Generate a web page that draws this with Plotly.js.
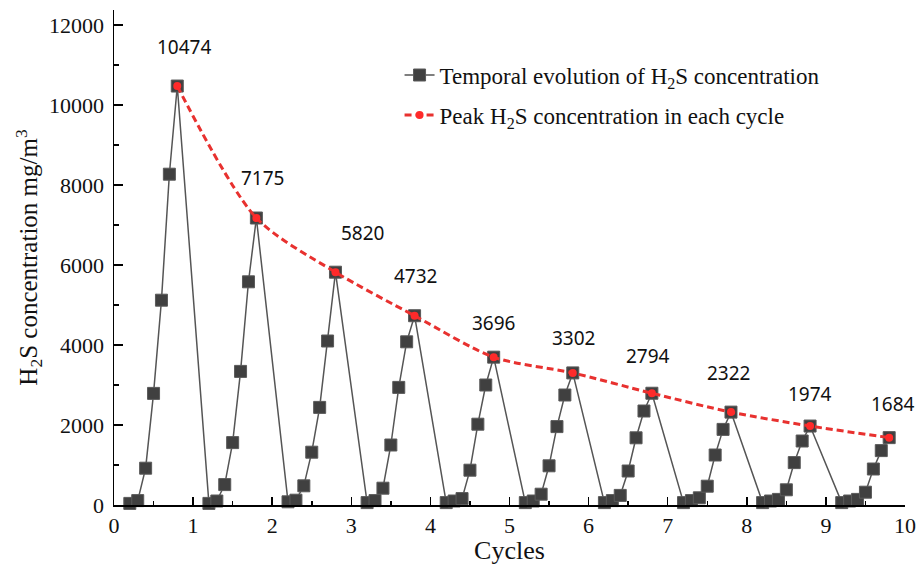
<!DOCTYPE html>
<html>
<head>
<meta charset="utf-8">
<script src="https://cdn.plot.ly/plotly-3.0.1.min.js"></script>
<style>
  html, body { margin: 0; padding: 0; background: #ffffff; }
  #chart { width: 918px; height: 565px; }
</style>
</head>
<body>
<div id="chart"></div>
<script>
// Sampling times (cycles) of the H2S measurements
const sampleTime = [
  0.2, 0.3, 0.4, 0.5, 0.6, 0.7, 0.8,
  1.2, 1.3, 1.4, 1.5, 1.6, 1.7, 1.8,
  2.2, 2.3, 2.4, 2.5, 2.6, 2.7, 2.8,
  3.2, 3.3, 3.4, 3.5, 3.6, 3.7, 3.8,
  4.2, 4.3, 4.4, 4.5, 4.6, 4.7, 4.8,
  5.2, 5.3, 5.4, 5.5, 5.6, 5.7, 5.8,
  6.2, 6.3, 6.4, 6.5, 6.6, 6.7, 6.8,
  7.2, 7.3, 7.4, 7.5, 7.6, 7.7, 7.8,
  8.2, 8.3, 8.4, 8.5, 8.6, 8.7, 8.8,
  9.2, 9.3, 9.4, 9.5, 9.6, 9.7, 9.8
];

// H2S concentration (mg/m3) at each sampling time
const h2sConcentration = [
  40, 110, 920, 2790, 5120, 8270, 10474,
  40, 100, 510, 1560, 3340, 5580, 7175,
  80, 120, 480, 1320, 2440, 4100, 5820,
  60, 110, 420, 1500, 2940, 4080, 4732,
  60, 100, 160, 870, 2020, 3000, 3696,
  60, 100, 270, 980, 1960, 2750, 3302,
  60, 110, 240, 850, 1680, 2350, 2794,
  60, 110, 180, 470, 1250, 1890, 2322,
  60, 100, 140, 380, 1060, 1600, 1974,
  60, 100, 140, 320, 900, 1360, 1684
];

// Peak of each cycle
const peakTime = [0.8, 1.8, 2.8, 3.8, 4.8, 5.8, 6.8, 7.8, 8.8, 9.8];
const peakConcentration = [10474, 7175, 5820, 4732, 3696, 3302, 2794, 2322, 1974, 1684];

// Label placement offsets (px) for the peak values
const labelDx = [7, 6, 27, 1, 0, 1, -4, -2, 0, 4];
const labelDy = [39, 40, 39, 40, 34, 35, 37, 39, 32, 34];

// Axis tick values
const yTicks = [0, 2000, 4000, 6000, 8000, 10000, 12000];
const yMinorTicks = [1000, 3000, 5000, 7000, 9000, 11000];

const serif = "Liberation Serif, Times New Roman, serif";

const traces = [
  {
    x: sampleTime,
    y: h2sConcentration,
    type: "scatter",
    mode: "lines+markers",
    name: "Temporal evolution of H<sub>2</sub>S concentration",
    legendgroup: "a",
    cliponaxis: false,
    line: { color: "#555555", width: 1.5 },
    marker: { symbol: "square", size: 12, color: "#404040", line: { color: "#5a5a5a", width: 1 } }
  },
  {
    x: peakTime,
    y: peakConcentration,
    type: "scatter",
    mode: "lines+markers",
    name: "Peak H<sub>2</sub>S concentration in each cycle",
    legendgroup: "b",
    cliponaxis: false,
    line: { color: "#e8312f", width: 3, dash: "7px,4px", shape: "spline", smoothing: 0.8 },
    marker: { symbol: "circle", size: 8, color: "#ff2a2a" }
  }
];

const annotations = peakTime.map((t, i) => ({
  x: t,
  y: peakConcentration[i],
  text: String(peakConcentration[i]),
  showarrow: false,
  xshift: labelDx[i],
  yshift: labelDy[i],
  font: { family: "Noto Sans, DejaVu Sans, sans-serif", size: 19, color: "#111111" }
}));

const layout = {
  width: 918,
  height: 565,
  margin: { l: 114, r: 13, t: 10, b: 60 },
  paper_bgcolor: "#ffffff",
  plot_bgcolor: "#ffffff",
  showlegend: true,
  legend: {
    x: 0.361, xanchor: "left",
    y: 0.912, yanchor: "top",
    traceorder: "grouped",
    tracegroupgap: 7,
    bgcolor: "rgba(0,0,0,0)",
    font: { family: serif, size: 23, color: "#111111" }
  },
  xaxis: {
    range: [0, 10],
    dtick: 1,
    showgrid: false,
    zeroline: false,
    showline: true,
    linecolor: "#000000",
    linewidth: 1.5,
    ticks: "inside",
    ticklen: 8,
    tickwidth: 1.5,
    tickcolor: "#000000",
    minor: { dtick: 0.5, ticks: "inside", ticklen: 4, tickwidth: 1.5, tickcolor: "#000000" },
    tickfont: { family: serif, size: 22, color: "#111111" },
    title: { text: "Cycles", font: { family: serif, size: 26, color: "#111111" }, standoff: 6 }
  },
  yaxis: {
    range: [0, 12375],
    tickvals: yTicks,
    tickformat: "d",
    showgrid: false,
    zeroline: false,
    showline: true,
    linecolor: "#000000",
    linewidth: 1.5,
    ticks: "inside",
    ticklen: 9,
    tickwidth: 1.5,
    tickcolor: "#000000",
    ticklabelstandoff: 4,
    minor: { tickvals: yMinorTicks, ticks: "inside", ticklen: 5, tickwidth: 1.5, tickcolor: "#000000" },
    tickfont: { family: serif, size: 22, color: "#111111" },
    title: { text: "H<sub>2</sub>S concentration mg/m<sup>3</sup>", font: { family: serif, size: 25, color: "#111111" }, standoff: 4 }
  },
  annotations: annotations
};

Plotly.newPlot("chart", traces, layout, { displayModeBar: false, staticPlot: true });
</script>
</body>
</html>
